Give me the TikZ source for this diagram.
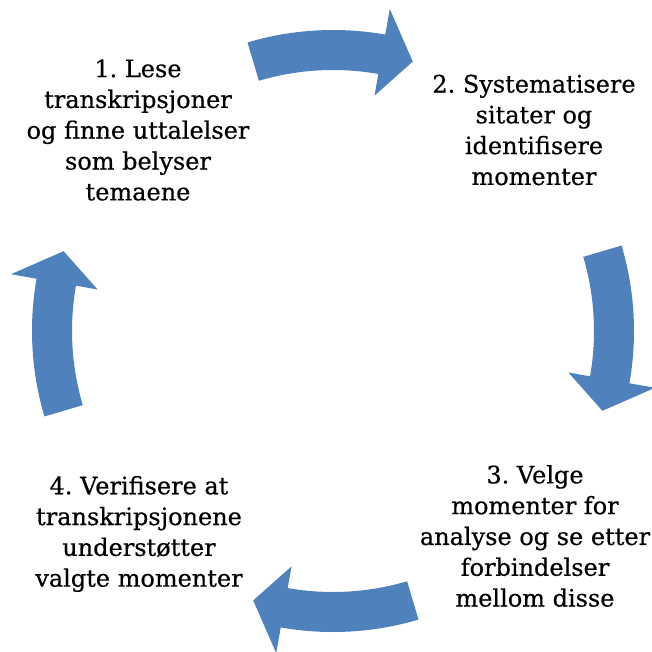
\documentclass[tikz,border=0pt]{standalone}
\usepackage{fontspec}
\setmainfont{DejaVu Serif}
\newfontfamily\stegfont[FakeBold=0.5]{DejaVu Serif}
\definecolor{pilblaa}{HTML}{4F81BD}
\tikzset{
	pil/.style={fill=pilblaa},
	steg/.style={align=center, font=\stegfont\fontsize{24}{30.8}\selectfont\frenchspacing}
}
\begin{document}
\begin{tikzpicture}[x=1pt,y=1pt]
	\useasboundingbox (-333,-320) rectangle (319,331);

	% Pilene i sirkelen (med klokka)
	\foreach \a in {90,0,-90,180}
		\fill[pil] (\a+16.5:301pt) arc[start angle=\a+16.5, end angle=\a-10, radius=301pt]
			-- (\a-10:327pt) -- (\a-16.5:281pt) -- (\a-10:239pt) -- (\a-10:261pt)
			arc[start angle=\a-10, end angle=\a+16.5, radius=261pt] -- cycle;

	% Tekstene
	\node[steg] (lese)   at (-195,201) {1. Lese\\transkripsjoner\\og finne uttalelser\\som belyser\\temaene};
	\node[steg] (system) at (201,201)  {2. Systematisere\\sitater og\\identifisere\\momenter};
	\node[steg] (velge)  at (202,-205) {3. Velge\\momenter for\\analyse og se etter\\forbindelser\\mellom disse};
	\node[steg] (verif)  at (-194,-203) {4. Verifisere at\\transkripsjonene\\understøtter\\valgte momenter};
\end{tikzpicture}
\end{document}
